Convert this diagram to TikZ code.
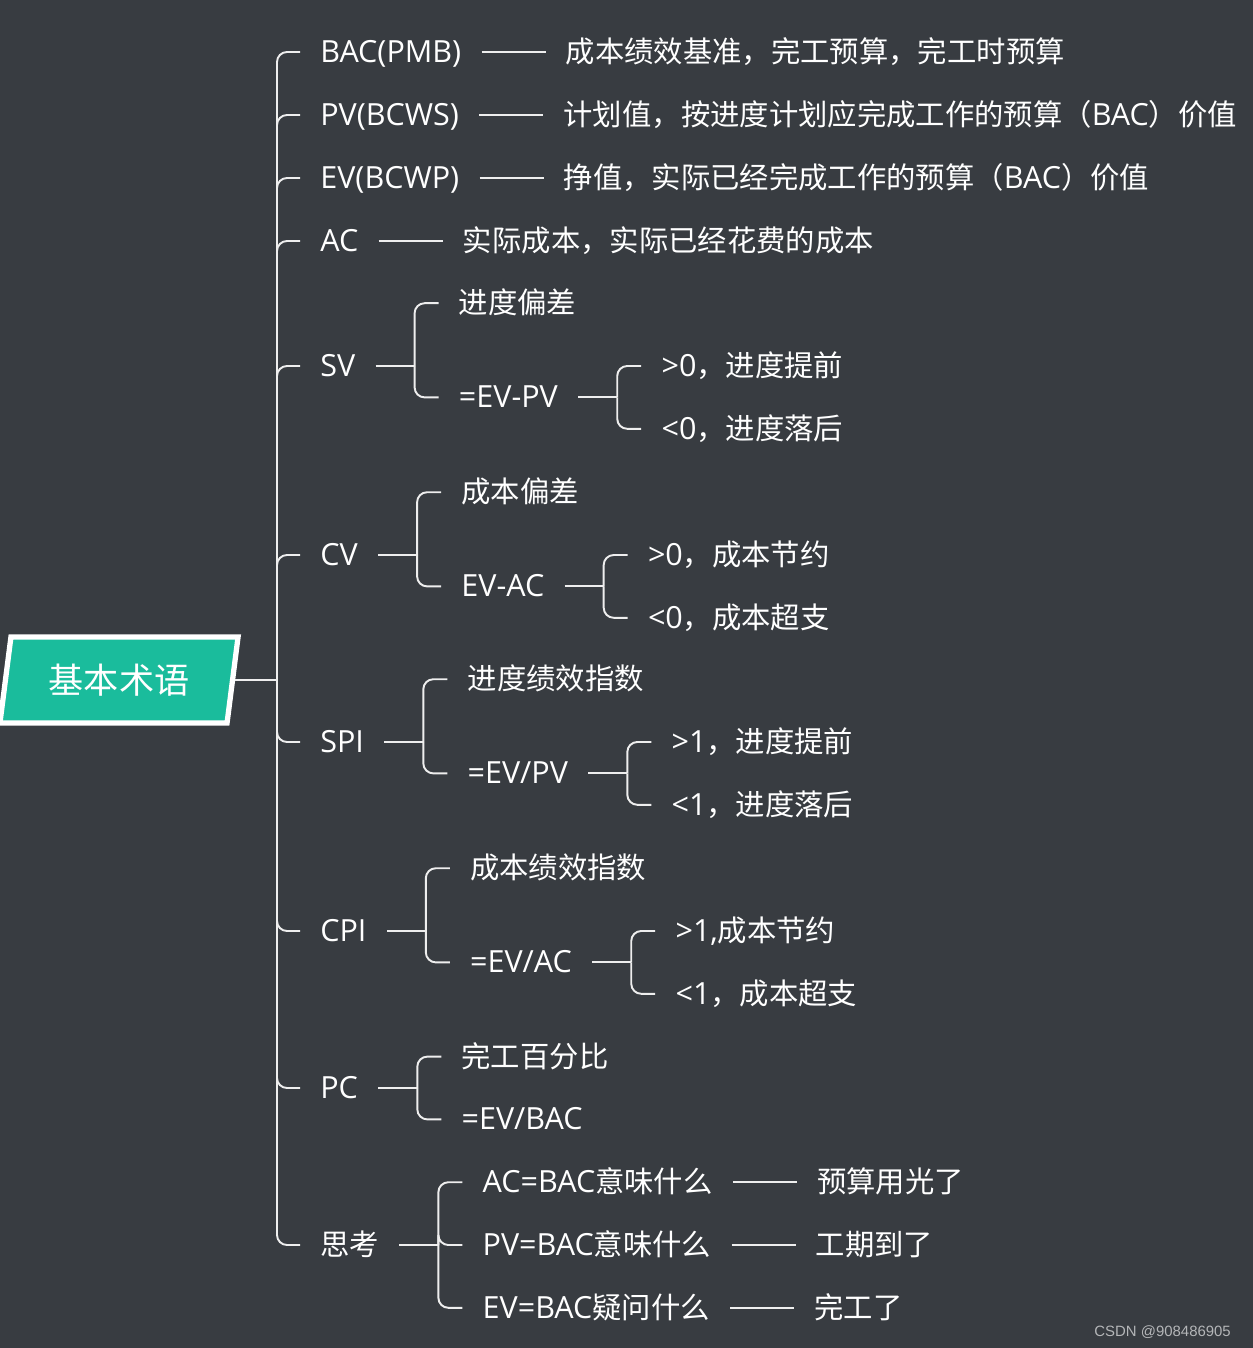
\documentclass[tikz,border=0pt]{standalone}
\usepackage{fontspec}
\usepackage{tikz}
\usetikzlibrary{shapes.geometric,positioning}
\setmainfont{Noto Sans CJK SC}
\newfontfamily\en[Scale=1.04]{Open Sans}
\newfontfamily\wm{Liberation Sans}
\definecolor{MapBg}{HTML}{383C41}
\definecolor{MapTeal}{HTML}{1ABC9C}
\definecolor{MapLine}{HTML}{EEEEEE}
\definecolor{MarkGray}{HTML}{B4B6B8}
\tikzset{
  TX/.style={anchor=west,inner xsep=0.4cm,inner ysep=3pt,
             text height=12pt,text depth=0pt,text=white,
             font=\fontsize{16.7}{20}\selectfont},
  RT/.style={trapezium,trapezium left angle=80,trapezium right angle=100,
             trapezium stretches=true,
             minimum width=4.8cm,minimum height=1.72cm,
             fill=MapTeal,draw=white,line width=3pt,text=white,
             font=\fontsize{20}{24}\selectfont},
  ln/.style={draw=MapLine,line width=1.1pt},
  br/.style={ln,rounded corners=0.2cm}
}

\begin{document}
\begin{tikzpicture}[x=0.02cm,y=-0.02cm]
  \useasboundingbox (0,0) rectangle (1253,1348);
  \fill[MapBg] (0,0) rectangle (1253,1348);

  \node[RT] (root) at (119,680) {基本术语};
  \coordinate (hub) at (277,680);
  \draw[ln] (root) -- (hub);

  % plain terms
  \node[TX] (bac) at (300,52) {{\en BAC(PMB)}};
  \node[TX,right=1.28cm of bac] (bacd) {成本绩效基准，完工预算，完工时预算};
  \node[TX] (pv) at (300,115) {{\en PV(BCWS)}};
  \node[TX,right=1.28cm of pv] (pvd) {计划值，按进度计划应完成工作的预算（{\en BAC}）价值};
  \node[TX] (ev) at (300,178) {{\en EV(BCWP)}};
  \node[TX,right=1.28cm of ev] (evd) {挣值，实际已经完成工作的预算（{\en BAC}）价值};
  \node[TX] (ac) at (300,241) {{\en AC}};
  \node[TX,right=1.28cm of ac] (acd) {实际成本，实际已经花费的成本};
  \draw[ln] (bac) -- (bacd);
  \draw[ln] (pv) -- (pvd);
  \draw[ln] (ev) -- (evd);
  \draw[ln] (ac) -- (acd);

  % SV
  \node[TX] (sv) at (300,366) {{\en SV}};
  \node[TX,right=1.26cm of sv,yshift=1.256cm] (svn) {进度偏差};
  \node[TX,right=1.26cm of sv,yshift=-0.628cm] (svf) {{\en =EV-PV}};
  \node[TX,right=1.26cm of svf,yshift=0.628cm] (svp) {{\en >0}，进度提前};
  \node[TX,right=1.26cm of svf,yshift=-0.628cm] (svm) {{\en <0}，进度落后};
  \draw[ln] (sv.east) -- ++(39,0) coordinate (svk);
  \draw[br] (svk) |- (svn.west);
  \draw[br] (svk) |- (svf.west);
  \draw[ln] (svf.east) -- ++(39,0) coordinate (svfk);
  \draw[br] (svfk) |- (svp.west);
  \draw[br] (svfk) |- (svm.west);

  % CV
  \node[TX] (cv) at (300,555) {{\en CV}};
  \node[TX,right=1.26cm of cv,yshift=1.256cm] (cvn) {成本偏差};
  \node[TX,right=1.26cm of cv,yshift=-0.628cm] (cvf) {{\en EV-AC}};
  \node[TX,right=1.26cm of cvf,yshift=0.628cm] (cvp) {{\en >0}，成本节约};
  \node[TX,right=1.26cm of cvf,yshift=-0.628cm] (cvm) {{\en <0}，成本超支};
  \draw[ln] (cv.east) -- ++(39,0) coordinate (cvk);
  \draw[br] (cvk) |- (cvn.west);
  \draw[br] (cvk) |- (cvf.west);
  \draw[ln] (cvf.east) -- ++(39,0) coordinate (cvfk);
  \draw[br] (cvfk) |- (cvp.west);
  \draw[br] (cvfk) |- (cvm.west);

  % SPI
  \node[TX] (spi) at (300,742) {{\en SPI}};
  \node[TX,right=1.26cm of spi,yshift=1.256cm] (spin) {进度绩效指数};
  \node[TX,right=1.26cm of spi,yshift=-0.628cm] (spif) {{\en =EV/PV}};
  \node[TX,right=1.26cm of spif,yshift=0.628cm] (spip) {{\en >1}，进度提前};
  \node[TX,right=1.26cm of spif,yshift=-0.628cm] (spim) {{\en <1}，进度落后};
  \draw[ln] (spi.east) -- ++(39,0) coordinate (spik);
  \draw[br] (spik) |- (spin.west);
  \draw[br] (spik) |- (spif.west);
  \draw[ln] (spif.east) -- ++(39,0) coordinate (spifk);
  \draw[br] (spifk) |- (spip.west);
  \draw[br] (spifk) |- (spim.west);

  % CPI
  \node[TX] (cpi) at (300,931) {{\en CPI}};
  \node[TX,right=1.26cm of cpi,yshift=1.256cm] (cpin) {成本绩效指数};
  \node[TX,right=1.26cm of cpi,yshift=-0.628cm] (cpif) {{\en =EV/AC}};
  \node[TX,right=1.26cm of cpif,yshift=0.628cm] (cpip) {{\en >1,}成本节约};
  \node[TX,right=1.26cm of cpif,yshift=-0.628cm] (cpim) {{\en <1}，成本超支};
  \draw[ln] (cpi.east) -- ++(39,0) coordinate (cpik);
  \draw[br] (cpik) |- (cpin.west);
  \draw[br] (cpik) |- (cpif.west);
  \draw[ln] (cpif.east) -- ++(39,0) coordinate (cpifk);
  \draw[br] (cpifk) |- (cpip.west);
  \draw[br] (cpifk) |- (cpim.west);

  % PC
  \node[TX] (pc) at (300,1088) {{\en PC}};
  \node[TX,right=1.26cm of pc,yshift=0.628cm] (pcn) {完工百分比};
  \node[TX,right=1.26cm of pc,yshift=-0.628cm] (pcf) {{\en =EV/BAC}};
  \draw[ln] (pc.east) -- ++(39,0) coordinate (pck);
  \draw[br] (pck) |- (pcn.west);
  \draw[br] (pck) |- (pcf.west);

  % think
  \node[TX] (think) at (300,1245) {思考};
  \node[TX,right=1.26cm of think,yshift=1.256cm] (qac) {{\en AC=BAC}意味什么};
  \node[TX,right=1.26cm of think] (qpv) {{\en PV=BAC}意味什么};
  \node[TX,right=1.26cm of think,yshift=-1.256cm] (qev) {{\en EV=BAC}疑问什么};
  \node[TX,right=1.28cm of qac] (aac) {预算用光了};
  \node[TX,right=1.28cm of qpv] (apv) {工期到了};
  \node[TX,right=1.28cm of qev] (aev) {完工了};
  \draw[ln] (think.east) -- ++(39,0) coordinate (thk);
  \foreach \q in {qac,qpv,qev} \draw[br] (thk) |- (\q.west);
  \draw[ln] (qac) -- (aac);
  \draw[ln] (qpv) -- (apv);
  \draw[ln] (qev) -- (aev);

  % trunk
  \foreach \n in {bac,pv,ev,ac,sv,cv,spi,cpi,pc,think}
    \draw[br] (hub) |- (\n.west);

  \node[anchor=east,text=MarkGray,font=\wm\fontsize{8.5}{10}\selectfont] (mark) at (1237,1332) {CSDN @908486905};
\end{tikzpicture}
\end{document}
